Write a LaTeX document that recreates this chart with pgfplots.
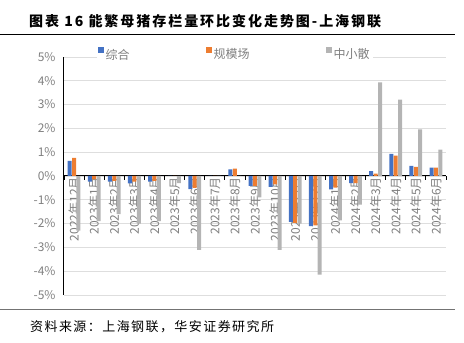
\documentclass[border=0pt]{standalone}
\usepackage{pgfplots}
\usepackage{pgfplotstable}
\pgfplotsset{compat=1.18}
\usepackage{fontspec}
\setmainfont{Noto Sans CJK SC}
\newfontfamily\titlefont[LetterSpace=14]{Noto Sans CJK SC}
\newfontfamily\srcfont[LetterSpace=11]{Noto Sans CJK SC}
\definecolor{cblue}{HTML}{4472C4}
\definecolor{corange}{HTML}{ED7D31}
\definecolor{cgray}{HTML}{B4B4B4}
\definecolor{labgray}{HTML}{7F7F7F}
\pgfplotstableread{
x a b c
0 0.63 0.76 -2.3
1 -0.24 -0.14 -1.9
2 -0.24 -0.20 -1.6
3 -0.31 -0.24 -2.0
4 -0.24 -0.20 -1.9
5 0 0 -0.3
6 -0.55 -0.50 -3.1
7 0 0 0
8 0.28 0.31 0
9 -0.42 -0.42 -0.9
10 -0.46 -0.35 -3.1
11 -1.93 -1.97 -2.0
12 -2.11 -2.07 -4.14
13 -0.56 -0.49 -1.86
14 -0.30 -0.30 -1.2
15 0.20 0.10 3.93
16 0.93 0.86 3.21
17 0.42 0.38 1.96
18 0.35 0.35 1.11
}\data
\begin{document}
\begin{tikzpicture}
\useasboundingbox (0,0) rectangle (464pt,343pt);
\node[anchor=west,inner sep=0pt] at (29pt,321.5pt) {\titlefont\fontsize{14}{14}\selectfont\bfseries 图表 16 能繁母猪存栏量环比变化走势图-上海钢联};
\draw[black,line width=0.8pt] (0pt,308.5pt) -- (455pt,308.5pt);
\draw[black!55,line width=1pt] (0pt,33pt) -- (455pt,33pt);
\node[anchor=west,inner sep=0pt] at (30pt,16pt) {\srcfont\fontsize{13}{13}\selectfont 资料来源：上海钢联，华安证券研究所};
\begin{axis}[
  at={(64pt,48pt)}, anchor=south west,
  scale only axis, width=382pt, height=238pt,
  ymin=-5, ymax=5, xmin=-0.5, xmax=18.5,
  axis x line=middle, axis y line=left,
  axis line style={-, black, line width=1pt},
  ybar=0.4pt, bar width=4pt,
  ytick={-5,-4,-3,-2,-1,0,1,2,3,4,5},
  yticklabels={-5\%,-4\%,-3\%,-2\%,-1\%,0\%,1\%,2\%,3\%,4\%,5\%},
  ymajorgrids, grid style={black!13, line width=0.8pt},
  major tick length=0pt,
  xtick={0,...,18},
  xticklabels={2022年12月,2023年1月,2023年2月,2023年3月,2023年4月,2023年5月,2023年6月,2023年7月,2023年8月,2023年9月,2023年10月,2023年11月,2023年12月,2024年1月,2024年2月,2024年3月,2024年4月,2024年5月,2024年6月},
  minor xtick={-0.5,0.5,...,18.5},
  minor tick length=4pt, xtick align=outside,
  minor x tick style={black, line width=0.8pt},
  xticklabel style={rotate=90, anchor=east, font=\fontsize{12}{12}\selectfont, text=labgray, inner sep=1pt},
  yticklabel style={font=\fontsize{12}{12}\selectfont, text=labgray, xshift=-5pt},
  legend style={at={(axis description cs:0.085,1.01)}, anchor=west, legend columns=3, draw=none, fill=white, font=\fontsize{12}{12}\selectfont, text=labgray, inner sep=1pt,
    /tikz/every even column/.append style={column sep=74pt}},
  legend image code/.code={\fill[#1,draw=none] (0pt,1.5pt) rectangle (6pt,8pt);},
]
\addplot[fill=cblue, draw=none] table[x=x,y=a]{\data};
\addplot[fill=corange, draw=none] table[x=x,y=b]{\data};
\addplot[fill=cgray, draw=none] table[x=x,y=c]{\data};
\legend{综合,规模场,中小散}
\end{axis}
\end{tikzpicture}
\end{document}
